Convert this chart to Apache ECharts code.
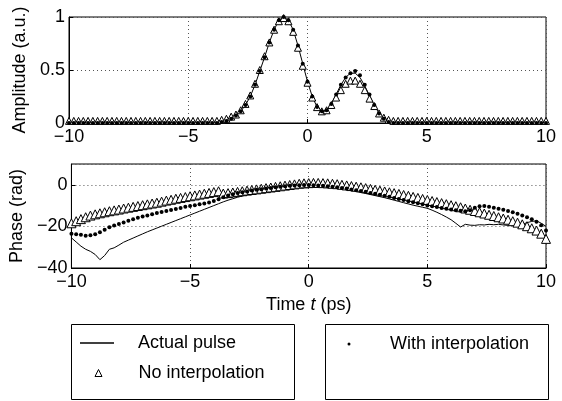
<!DOCTYPE html>
<html>
<head>
<meta charset="utf-8">
<script src="https://cdn.jsdelivr.net/npm/echarts@6/dist/echarts.min.js"></script>
<style>
  html, body { margin: 0; padding: 0; background: #fff; }
  #chart { width: 562px; height: 401px; }
</style>
</head>
<body>
<div id="chart"></div>
<script>
// Sample times (ps)
const times = [
  -10, -9.8, -9.6, -9.4, -9.2, -9, -8.8, -8.6, -8.4, -8.2,
  -8, -7.8, -7.6, -7.4, -7.2, -7, -6.8, -6.6, -6.4, -6.2,
  -6, -5.8, -5.6, -5.4, -5.2, -5, -4.8, -4.6, -4.4, -4.2,
  -4, -3.8, -3.6, -3.4, -3.2, -3, -2.8, -2.6, -2.4, -2.2,
  -2, -1.8, -1.6, -1.4, -1.2, -1, -0.8, -0.6, -0.4, -0.2,
  0, 0.2, 0.4, 0.6, 0.8, 1, 1.2, 1.4, 1.6, 1.8,
  2, 2.2, 2.4, 2.6, 2.8, 3, 3.2, 3.4, 3.6, 3.8,
  4, 4.2, 4.4, 4.6, 4.8, 5, 5.2, 5.4, 5.6, 5.8,
  6, 6.2, 6.4, 6.6, 6.8, 7, 7.2, 7.4, 7.6, 7.8,
  8, 8.2, 8.4, 8.6, 8.8, 9, 9.2, 9.4, 9.6, 9.8,
  10
];

// Amplitude (a.u.)
const ampActual = [
  0, 0, 0, 0, 0, 0, 0, 0, 0, 0,
  0, 0, 0, 0, 0, 0, 0, 0, 0, 0,
  0, 0, 0, 0, 0, 0, 0, 0, 0, 0,
  0, 0, 0.01, 0.02, 0.04, 0.07, 0.11, 0.17, 0.25, 0.36,
  0.49, 0.62, 0.76, 0.88, 0.97, 1.0, 0.97, 0.88, 0.73, 0.56,
  0.39, 0.25, 0.15, 0.11, 0.12, 0.18, 0.27, 0.36, 0.43, 0.47,
  0.47, 0.43, 0.35, 0.26, 0.17, 0.09, 0.04, 0.01, 0, 0,
  0, 0, 0, 0, 0, 0, 0, 0, 0, 0,
  0, 0, 0, 0, 0, 0, 0, 0, 0, 0,
  0, 0, 0, 0, 0, 0, 0, 0, 0, 0,
  0
];
const ampNoInterp = [
  0.02, 0.02, 0.02, 0.02, 0.02, 0.02, 0.02, 0.02, 0.02, 0.02,
  0.02, 0.02, 0.02, 0.02, 0.02, 0.02, 0.02, 0.02, 0.02, 0.02,
  0.02, 0.02, 0.02, 0.02, 0.02, 0.02, 0.02, 0.02, 0.02, 0.02,
  0.02, 0.02, 0.03, 0.04, 0.06, 0.08, 0.12, 0.18, 0.26, 0.37,
  0.50, 0.63, 0.76, 0.88, 0.96, 0.99, 0.96, 0.86, 0.71, 0.54,
  0.38, 0.24, 0.15, 0.11, 0.12, 0.17, 0.24, 0.31, 0.37, 0.40,
  0.40, 0.37, 0.31, 0.23, 0.16, 0.09, 0.05, 0.03, 0.02, 0.02,
  0.02, 0.02, 0.02, 0.02, 0.02, 0.02, 0.02, 0.02, 0.02, 0.02,
  0.02, 0.02, 0.02, 0.02, 0.02, 0.02, 0.02, 0.02, 0.02, 0.02,
  0.02, 0.02, 0.02, 0.02, 0.02, 0.02, 0.02, 0.02, 0.02, 0.02,
  0.02
];
const ampInterp = [
  0, 0, 0, 0, 0, 0, 0, 0, 0, 0,
  0, 0, 0, 0, 0, 0, 0, 0, 0, 0,
  0, 0, 0, 0, 0, 0, 0, 0, 0, 0,
  0, 0, 0.01, 0.02, 0.04, 0.07, 0.11, 0.17, 0.25, 0.36,
  0.49, 0.62, 0.76, 0.88, 0.97, 1.0, 0.97, 0.88, 0.73, 0.56,
  0.39, 0.25, 0.15, 0.11, 0.12, 0.18, 0.27, 0.36, 0.43, 0.47,
  0.49, 0.45, 0.36, 0.27, 0.17, 0.09, 0.04, 0.01, 0, 0,
  0, 0, 0, 0, 0, 0, 0, 0, 0, 0,
  0, 0, 0, 0, 0, 0, 0, 0, 0, 0,
  0, 0, 0, 0, 0, 0, 0, 0, 0, 0,
  0
];

// Phase (rad)
const phaseActual = [
  -25.5, -27.5, -29.5, -31.0, -32.0, -33.5, -36.0, -34.0, -31.0, -30.3,
  -29.0, -27.6, -26.6, -25.6, -24.6, -23.6, -22.6, -21.7, -20.8, -19.9,
  -19.0, -18.1, -17.2, -16.3, -15.4, -14.5, -13.6, -12.7, -11.8, -10.9,
  -10.0, -9.1, -8.2, -7.4, -6.7, -6.0, -5.4, -4.8, -4.2, -3.6,
  -3.1, -2.6, -2.1, -1.7, -1.3, -1.0, -0.7, -0.5, -0.4, -0.3,
  -0.3, -0.4, -0.6, -0.8, -1.0, -1.3, -1.6, -2.0, -2.4, -2.8,
  -3.2, -3.7, -4.2, -4.7, -5.2, -5.7, -6.2, -6.8, -7.4, -8.0,
  -8.6, -9.2, -9.8, -10.3, -10.8, -11.3, -12.2, -13.2, -14.3, -15.5,
  -16.8, -18.5, -20.3, -19.0, -19.4, -19.5, -19.2, -19.3, -19.0, -19.2,
  -19.0, -19.3, -19.5, -19.6, -19.8, -19.0, -18.2, -17.6, -17.3, -18.5,
  -20.0
];
const phaseNoInterp = [
  -18.5, -17.5, -16.5, -15.6, -14.8, -14.2, -13.7, -13.2, -12.7, -12.3,
  -11.9, -11.4, -11.0, -10.6, -10.2, -9.8, -9.4, -9.0, -8.6, -8.1,
  -7.6, -7.2, -6.7, -6.3, -5.9, -5.5, -5.1, -4.7, -4.3, -3.9,
  -3.5, -3.1, -4.2, -4.0, -3.7, -3.4, -3.1, -2.8, -2.5, -2.2,
  -1.9, -1.6, -1.3, -1.0, -0.7, -0.4, -0.1, 0.2, 0.5, 0.7,
  0.8, 0.9, 0.9, 0.8, 0.7, 0.5, 0.3, 0.0, -0.3, -0.6,
  -0.9, -1.2, -1.6, -2.0, -2.4, -2.8, -3.2, -3.6, -4.0, -4.4,
  -4.9, -5.3, -5.8, -6.3, -6.8, -7.3, -7.8, -8.3, -8.8, -9.3,
  -9.8, -10.3, -10.8, -11.4, -12.0, -12.6, -13.2, -13.8, -14.4, -15.0,
  -15.6, -16.2, -16.8, -17.5, -18.2, -19.0, -19.9, -20.9, -22.0, -23.5,
  -26.0
];
const phaseInterp = [
  -23.5, -23.8, -24.0, -24.5, -24.3, -23.8, -22.8, -21.6, -20.4, -19.6,
  -18.9, -18.1, -17.3, -16.6, -15.9, -15.3, -14.7, -14.1, -13.6, -13.1,
  -12.6, -12.1, -11.6, -11.1, -10.6, -10.2, -9.8, -9.4, -9.0, -8.5,
  -7.8, -6.9, -6.0, -5.2, -4.6, -4.0, -3.6, -3.2, -2.8, -2.4,
  -2.1, -1.8, -1.5, -1.2, -0.9, -0.7, -0.5, -0.3, -0.2, -0.1,
  -0.1, -0.2, -0.3, -0.5, -0.7, -0.9, -1.2, -1.5, -1.8, -2.2,
  -2.6, -3.0, -3.4, -3.9, -4.3, -4.8, -5.3, -5.8, -6.3, -6.8,
  -7.3, -7.9, -8.4, -8.9, -9.4, -9.9, -10.3, -10.7, -11.1, -11.5,
  -11.9, -12.2, -12.5, -12.7, -12.2, -11.0, -10.3, -10.2, -10.5, -11.0,
  -11.5, -12.0, -12.6, -13.2, -13.9, -14.7, -15.6, -16.6, -17.8, -19.5,
  -22.0
];

const FONT = "'Liberation Sans', Arial, Helvetica, sans-serif";
const pairs = vals => times.map((t, i) => [t, vals[i]]);
const minus = v => String(v).replace('-', '\u2212');

const grid = (top, height) => ({
  left: 69, right: 16, top: top, height: height,
  show: true, borderColor: '#000', borderWidth: 1, backgroundColor: '#fff'
});

const dotted = { show: true, lineStyle: { color: '#555', width: 1, type: [1, 3] } };

const xAxis = (gridIndex, name) => ({
  type: 'value', gridIndex: gridIndex, min: -10, max: 10, interval: 5,
  axisLine: { show: true, onZero: false, lineStyle: { color: '#000', width: 1 } },
  axisTick: { show: true, inside: true, length: 4, lineStyle: { color: '#000' } },
  axisLabel: { color: '#000', fontSize: 18, fontFamily: FONT, margin: 5, formatter: minus },
  splitLine: dotted,
  name: name || '',
  nameLocation: 'middle',
  nameGap: 28,
  nameTextStyle: {
    rich: {
      n: { fontSize: 18, fontFamily: FONT, color: '#000' },
      i: { fontSize: 18, fontFamily: FONT, color: '#000', fontStyle: 'italic' }
    }
  }
});

const yAxis = (gridIndex, name, min, max, interval, hideMax) => ({
  type: 'value', gridIndex: gridIndex, min: min, max: max, interval: interval,
  axisLine: { show: true, onZero: false, lineStyle: { color: '#000', width: 1 } },
  axisTick: { show: true, inside: true, length: 4, lineStyle: { color: '#000' } },
  axisLabel: { color: '#000', fontSize: 18, fontFamily: FONT, margin: 4, formatter: minus,
               showMaxLabel: !hideMax },
  splitLine: dotted,
  name: name,
  nameLocation: 'middle',
  nameGap: 32,
  nameTextStyle: { fontSize: 18, fontFamily: FONT, color: '#000' }
});

const lineSeries = (idx, vals) => ({
  name: 'Actual pulse', type: 'line', xAxisIndex: idx, yAxisIndex: idx,
  data: pairs(vals), showSymbol: false, symbol: 'none',
  lineStyle: { color: '#000', width: 1 }, itemStyle: { color: '#000' },
  animation: false, z: 2
});
const triSeries = (idx, vals, size) => ({
  name: 'No interpolation', type: 'scatter', xAxisIndex: idx, yAxisIndex: idx,
  data: pairs(vals), symbol: 'triangle', symbolSize: size,
  itemStyle: { color: '#fff', borderColor: '#000', borderWidth: 1, opacity: 1 },
  animation: false, z: 3
});
const dotSeries = (idx, vals) => ({
  name: 'With interpolation', type: 'scatter', xAxisIndex: idx, yAxisIndex: idx,
  data: pairs(vals), symbol: 'circle', symbolSize: 4,
  itemStyle: { color: '#000', borderWidth: 0, opacity: 1 },
  animation: false, z: 4
});

const legendText = pad => ({
  color: '#000', fontSize: 18, fontFamily: FONT, lineHeight: 20, padding: [0, 0, 0, pad]
});
const legendEntry = (name, icon, left, top, w, h, pad, itemStyle) => ({
  data: [{ name: name, icon: icon, itemStyle: itemStyle }],
  orient: 'vertical', left: left, top: top, padding: 0,
  itemWidth: w, itemHeight: h,
  selectedMode: false, textStyle: legendText(pad)
});

const chart = echarts.init(document.getElementById('chart'), null, { renderer: 'canvas' });
chart.setOption({
  backgroundColor: '#fff',
  animation: false,
  grid: [grid(17, 106), grid(164, 104)],
  xAxis: [xAxis(0), xAxis(1, '{n|Time }{i|t}{n| (ps)}')],
  yAxis: [
    yAxis(0, 'Amplitude (a.u.)', 0, 1, 0.5, false),
    yAxis(1, 'Phase (rad)', -40, 10, 20, true)
  ],
  legend: [
    legendEntry('Actual pulse', 'rect', 80, 333, 34, 1.5, 19,
                { color: '#000', borderWidth: 0 }),
    legendEntry('No interpolation', 'triangle', 94.5, 363, 7, 7, 31.5,
                { color: '#fff', borderColor: '#000', borderWidth: 1 }),
    legendEntry('With interpolation', 'circle', 347.5, 334, 3, 3, 34.5,
                { color: '#000', borderWidth: 0 })
  ],
  graphic: [
    { type: 'rect', left: 69, top: 322, shape: { width: 223, height: 75 },
      style: { fill: 'none', stroke: '#000', lineWidth: 1 }, silent: true },
    { type: 'rect', left: 323, top: 322, shape: { width: 223, height: 75 },
      style: { fill: 'none', stroke: '#000', lineWidth: 1 }, silent: true }
  ],
  series: [
    lineSeries(0, ampActual), triSeries(0, ampNoInterp, 7), dotSeries(0, ampInterp),
    lineSeries(1, phaseActual), triSeries(1, phaseNoInterp, 9), dotSeries(1, phaseInterp)
  ]
});
</script>
</body>
</html>
